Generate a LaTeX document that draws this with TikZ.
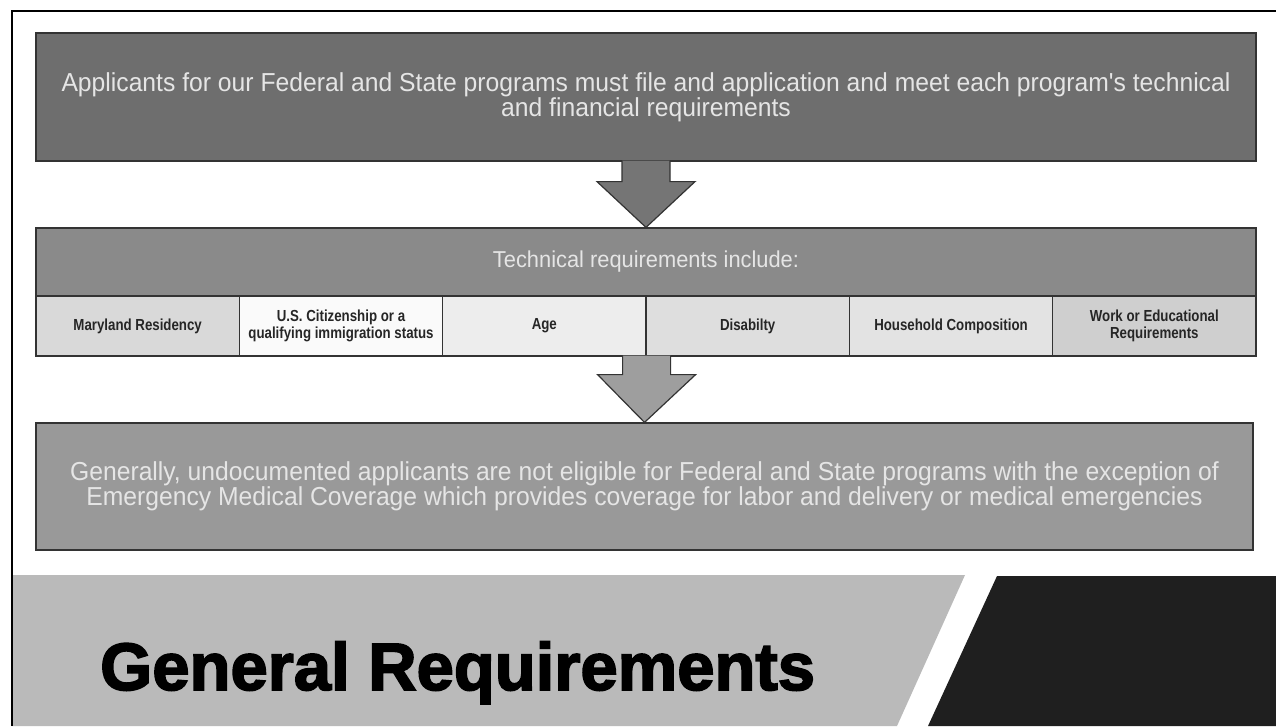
\documentclass[tikz,border=0pt]{standalone}
\usepackage{fontspec}
\setmainfont{Liberation Sans}
\newfontfamily\boxfont[FakeStretch=0.95]{Liberation Sans}
\newfontfamily\narrowfont[FakeStretch=0.83]{Liberation Sans}
\newfontfamily\titlefont[BoldFeatures={FakeBold=2.5}]{Liberation Sans}
\usetikzlibrary{calc}

\definecolor{topgray}{gray}{0.43}
\definecolor{hdrgray}{gray}{0.54}
\definecolor{botgray}{gray}{0.60}
\definecolor{arrowone}{gray}{0.46}
\definecolor{arrowtwo}{gray}{0.62}
\definecolor{bandlight}{gray}{0.73}
\definecolor{banddark}{gray}{0.12}

\begin{document}
\begin{tikzpicture}[x=1pt,y=-1pt,
    box/.style={draw=black!80,line width=1.2pt,inner sep=0pt,minimum width=1220pt,align=center,text=white!90!black,font=\boxfont\fontsize{26}{24}\selectfont},
    cell/.style={draw=black!80,line width=1.2pt,inner sep=0pt,minimum width=203.33pt,minimum height=60pt,align=center,text=black!85,font=\narrowfont\bfseries\fontsize{16}{17.5}\selectfont},
    blockarrow/.style={draw=black!80,line width=1.2pt,line join=miter}]
        \fill[white] (0,0) rectangle (1276,726);
        \useasboundingbox (0,0) rectangle (1276,726);

        \node[box,fill=topgray,minimum height=128pt] (apply) at (646,97) {Applicants for our Federal and State programs must file and application and meet each program's technical\\and financial requirements};
        \node[box,fill=hdrgray,minimum height=68pt,font=\boxfont\fontsize{23}{26}\selectfont] (hdr) at (646,262) {Technical requirements include:};

        \node[cell,fill=black!15] (c1) at (137.67,326) {Maryland Residency};
        \node[cell,fill=black!2] (c2) at (341,326) {U.S. Citizenship or a\\qualifying immigration status};
        \node[cell,fill=black!7] (c3) at (544.33,326) {Age};
        \node[cell,fill=black!13] (c4) at (747.67,326) {Disabilty};
        \node[cell,fill=black!11] (c5) at (951,326) {Household Composition};
        \node[cell,fill=black!19] (c6) at (1154.33,326) {Work or Educational\\Requirements};

        \node[box,fill=botgray,minimum height=127pt,minimum width=1217pt] (undoc) at (644.5,486.5) {Generally, undocumented applicants are not eligible for Federal and State programs with the exception of\\Emergency Medical Coverage which provides coverage for labor and delivery or medical emergencies};

        \filldraw[blockarrow,fill=arrowone] ($(apply.south)+(-24,-1)$) |- ($(apply.south)+(-49,20)$) -- (hdr.north) -- ($(apply.south)+(49,20)$) -| ($(apply.south)+(24,-1)$);
        \filldraw[blockarrow,fill=arrowtwo] ($(c3.south east)+(-24,-1)$) |- ($(c3.south east)+(-49,18)$) -- (undoc.north) -- ($(c3.south east)+(49,18)$) -| ($(c3.south east)+(24,-1)$);

        \fill[bandlight] (12,575) -- (965,575) -- (897,726) -- (12,726) -- cycle;
        \fill[banddark] (997,576) -- (1276,576) -- (1276,726) -- (928,726) -- cycle;
        \node[anchor=base west,inner sep=0pt,font=\titlefont\bfseries\fontsize{67}{80}\selectfont] (title) at (100,690) {General Requirements};

        \draw[line width=1.5pt] (12,726) -- (12,11) -- (1276,11);
      \end{tikzpicture}
\end{document}
